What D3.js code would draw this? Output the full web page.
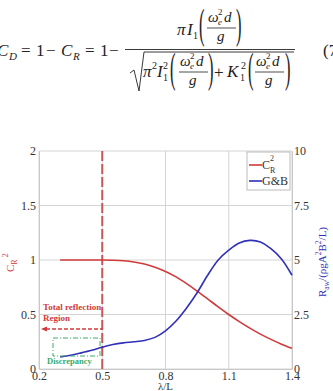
<!DOCTYPE html>
<html>
<head>
<meta charset="utf-8">
<script src="https://cdn.jsdelivr.net/npm/d3@7"></script>
<style>
  body { margin: 0; background: #fff; }
  svg { display: block; }
  text { font-family: "Liberation Serif", "Times New Roman", serif; }
</style>
</head>
<body>
<div class="chart"></div>
<script>
// data
const lambda = [0.3, 0.35, 0.4, 0.45, 0.5, 0.55, 0.6, 0.65, 0.7, 0.75, 0.8, 0.85, 0.9, 0.95, 1.0, 1.05, 1.1, 1.15, 1.2, 1.25, 1.3, 1.35, 1.4];
const cr2 = [1.0, 1.0, 1.0, 1.0, 1.0, 0.998, 0.993, 0.982, 0.963, 0.934, 0.895, 0.845, 0.783, 0.715, 0.643, 0.57, 0.5, 0.435, 0.375, 0.32, 0.272, 0.228, 0.19];
const gb = [0.55, 0.63, 0.74, 0.86, 1.0, 1.12, 1.2, 1.25, 1.31, 1.45, 1.75, 2.2, 2.8, 3.5, 4.3, 5.0, 5.45, 5.78, 5.9, 5.83, 5.52, 5.05, 4.3];
const xTicks = [0.2, 0.5, 0.8, 1.1, 1.4];
const yLeftTicks = [0, 0.5, 1, 1.5, 2];
const yRightTicks = [0, 2.5, 5, 7.5, 10];

const width = 333, height = 391;
const red = "#d23a3a", blue = "#3030b8", green = "#3aaa6a";

const svg = d3.select(".chart").append("svg").attr("width", width).attr("height", height);

// ---- equation (7) ----
const eq = svg.append("g").attr("fill", "#222");
function t(x, y, s, size, italic) {
  return eq.append("text").attr("x", x).attr("y", y).attr("font-size", size || 17)
    .attr("font-style", italic ? "italic" : "normal").text(s);
}
function paren(x, y, s) {
  eq.append("text").attr("transform", "translate(" + x + "," + y + ") scale(0.75,1.9)")
    .attr("font-size", 22).text(s);
}
function frac(x, y) {
  // ω_e^2 d over g, x = left of bar, y = bar
  t(x + 1, y - 6, "ω", 15, true);
  t(x + 11, y - 13, "2", 9);
  t(x + 11, y - 3, "e", 9, true);
  t(x + 17, y - 6, "d", 15, true);
  eq.append("line").attr("x1", x).attr("x2", x + 29).attr("y1", y).attr("y2", y)
    .attr("stroke", "#222").attr("stroke-width", 0.8);
  t(x + 10, y + 13, "g", 15, true);
}
t(-3, 56, "C", 17, true); t(9, 60, "D", 11, true);
t(21, 56, "="); t(36, 56, "1"); t(46, 56, "−");
t(61, 56, "C", 17, true); t(73, 60, "R", 11, true);
t(85, 56, "="); t(100, 56, "1"); t(109, 56, "−");
eq.append("line").attr("x1", 125).attr("x2", 295).attr("y1", 49.5).attr("y2", 49.5)
  .attr("stroke", "#222").attr("stroke-width", 0.9);
// numerator
t(177, 35, "π", 17, true); t(187, 35, "I", 17, true); t(193, 39, "1", 10);
paren(199, 38, "("); frac(207, 28); paren(236, 38, ")");
// denominator
eq.append("path").attr("d", "M130,73 L134,70 L139,91 L144,52 L294,52")
  .attr("fill", "none").attr("stroke", "#222").attr("stroke-width", 0.9);
t(143, 77, "π", 17, true); t(152, 69, "2", 10);
t(157, 77, "I", 17, true); t(163, 69, "2", 10); t(163, 81, "1", 10);
paren(170, 82, "("); frac(179, 72); paren(208, 82, ")");
t(214, 78, "+");
t(227, 77, "K", 17, true); t(241, 69, "2", 10); t(240, 81, "1", 10);
paren(248, 82, "("); frac(255, 72); paren(285, 82, ")");
t(323, 56, "(7");

// ---- chart ----
const x = d3.scaleLinear().domain([0.2, 1.4]).range([39, 292]);
const yL = d3.scaleLinear().domain([0, 2]).range([369, 151]);
const yR = d3.scaleLinear().domain([0, 10]).range([369, 151]);

const grid = svg.append("g").attr("stroke", "#d4d4d4").attr("stroke-width", 1);
yLeftTicks.forEach(v => grid.append("line").attr("x1", x(0.2)).attr("x2", x(1.4))
  .attr("y1", yL(v)).attr("y2", yL(v)));
xTicks.forEach(v => grid.append("line").attr("x1", x(v)).attr("x2", x(v))
  .attr("y1", yL(0)).attr("y2", yL(2)));

const axL = svg.append("g").attr("transform", "translate(" + x(0.2) + ",0)")
  .call(d3.axisLeft(yL).tickValues(yLeftTicks).tickSize(0).tickPadding(3).tickFormat(d3.format("")));
const axR = svg.append("g").attr("transform", "translate(" + x(1.4) + ",0)")
  .call(d3.axisRight(yR).tickValues(yRightTicks).tickSize(0).tickPadding(2).tickFormat(d3.format("")));
const axB = svg.append("g").attr("transform", "translate(0," + yL(0) + ")")
  .call(d3.axisBottom(x).tickValues(xTicks).tickSize(0).tickPadding(2).tickFormat(d3.format(".1f")));
[axL, axR, axB].forEach(a => {
  a.select(".domain").attr("stroke", "#c8c8c8");
  a.selectAll("text").attr("font-size", 12).attr("fill", "#333");
});

// vertical dashed marker at 0.5
svg.append("line").attr("x1", x(0.5)).attr("x2", x(0.5)).attr("y1", yL(2)).attr("y2", yL(0))
  .attr("stroke", "#c85858").attr("stroke-width", 2).attr("stroke-dasharray", "10,3");

const idx = d3.range(lambda.length);
const lineL = d3.line().x(i => x(lambda[i])).y(i => yL(cr2[i])).curve(d3.curveMonotoneX);
const lineR = d3.line().x(i => x(lambda[i])).y(i => yR(gb[i])).curve(d3.curveCatmullRom);
svg.append("path").attr("d", lineL(idx)).attr("fill", "none").attr("stroke", red).attr("stroke-width", 1.6);
svg.append("path").attr("d", lineR(idx)).attr("fill", "none").attr("stroke", blue).attr("stroke-width", 1.6);

// annotations
svg.append("text").attr("x", 43).attr("y", 310).attr("font-size", 9).attr("font-weight", "bold")
  .attr("fill", red).text("Total reflection");
svg.append("text").attr("x", 43).attr("y", 321).attr("font-size", 9).attr("font-weight", "bold")
  .attr("fill", red).text("Region");
svg.append("line").attr("x1", 46).attr("x2", x(0.5)).attr("y1", 329).attr("y2", 329)
  .attr("stroke", red).attr("stroke-width", 1.5).attr("stroke-dasharray", "4,2");
svg.append("path").attr("d", "M41,329 L47,326.5 L47,331.5 Z").attr("fill", red);
svg.append("rect").attr("x", 53).attr("y", 338).attr("width", 47).attr("height", 18)
  .attr("fill", "none").attr("stroke", green).attr("stroke-width", 1).attr("stroke-dasharray", "5,2,1,2");
svg.append("text").attr("x", 47).attr("y", 364).attr("font-size", 8.5).attr("font-weight", "bold")
  .attr("fill", green).text("Discrepancy");

// legend
const lg = svg.append("g");
lg.append("rect").attr("x", 247).attr("y", 152).attr("width", 43).attr("height", 38)
  .attr("fill", "#fff").attr("stroke", "#bbb");
lg.append("line").attr("x1", 249).attr("x2", 262).attr("y1", 165).attr("y2", 165).attr("stroke", red).attr("stroke-width", 1.6);
lg.append("line").attr("x1", 249).attr("x2", 262).attr("y1", 181).attr("y2", 181).attr("stroke", blue).attr("stroke-width", 1.6);
lg.append("text").attr("x", 262).attr("y", 169).attr("font-size", 12).attr("fill", "#333").text("C");
lg.append("text").attr("x", 270).attr("y", 161).attr("font-size", 8).attr("fill", "#333").text("2");
lg.append("text").attr("x", 270).attr("y", 173).attr("font-size", 8).attr("fill", "#333").text("R");
lg.append("text").attr("x", 262).attr("y", 185).attr("font-size", 12).attr("fill", "#333").text("G&B");

// axis titles
const tl = svg.append("text").attr("transform", "translate(14,272) rotate(-90)")
  .attr("font-size", 11).attr("fill", red);
tl.append("tspan").text("C");
tl.append("tspan").attr("font-size", 8).attr("dy", 3).text("R");
tl.append("tspan").attr("font-size", 8).attr("dy", -9).attr("dx", 2).text("2");

const tr = svg.append("text").attr("transform", "translate(326,297) rotate(-90)")
  .attr("font-size", 11).attr("fill", blue);
tr.append("tspan").text("R");
tr.append("tspan").attr("font-size", 7.5).attr("dy", 3).text("aw");
tr.append("tspan").attr("dy", -3).text("/(ρgA");
tr.append("tspan").attr("font-size", 7.5).attr("dy", -5).text("2");
tr.append("tspan").attr("dy", 5).text("B");
tr.append("tspan").attr("font-size", 7.5).attr("dy", -5).text("2");
tr.append("tspan").attr("dy", 5).text("/L)");

svg.append("text").attr("x", x(0.8)).attr("y", 390).attr("text-anchor", "middle")
  .attr("font-size", 11).attr("fill", "#333").text("λ/L");
</script>
</body>
</html>
